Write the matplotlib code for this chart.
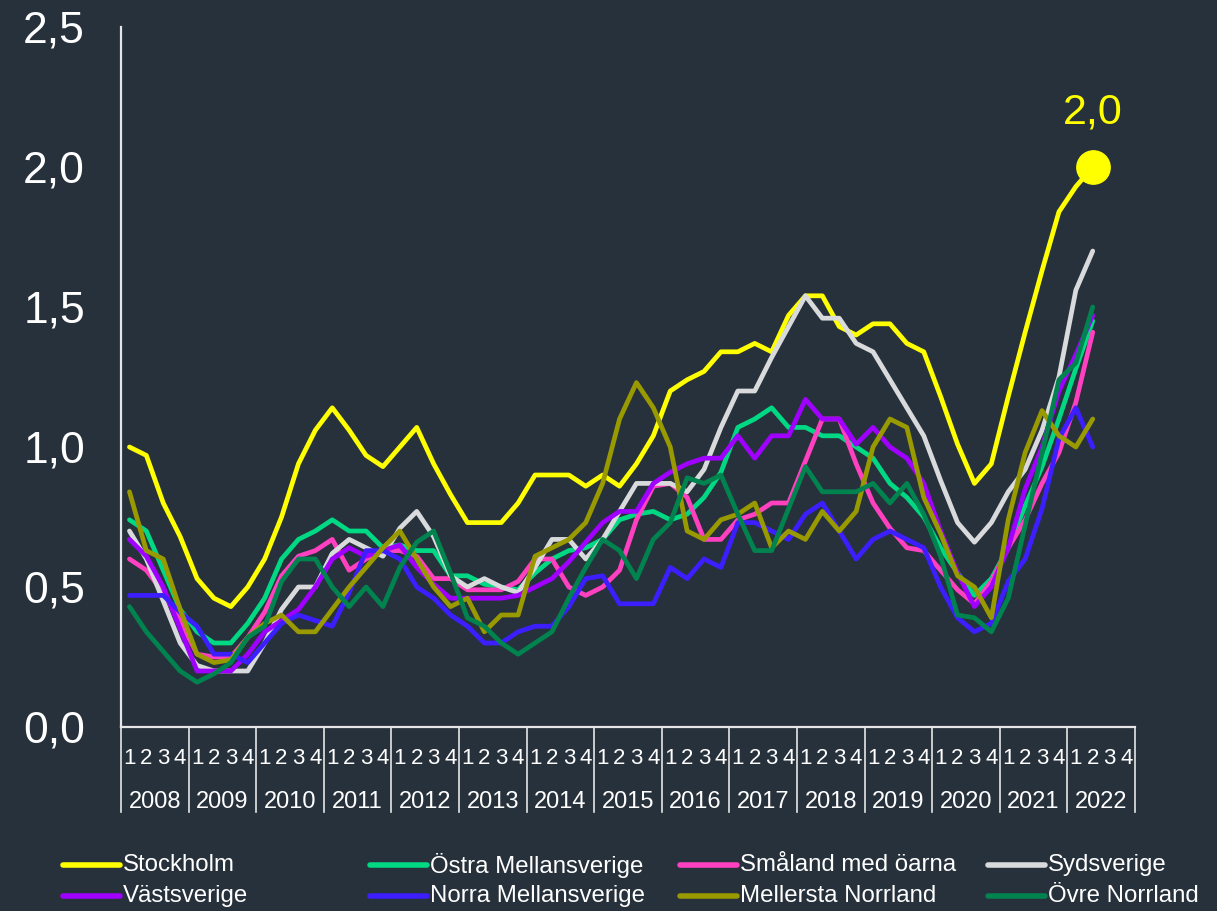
import numpy as np
import matplotlib.pyplot as plt
from matplotlib.lines import Line2D

plt.rcParams['font.family'] = ['Liberation Sans', 'DejaVu Sans']

# --- data (quarterly, 2008Q1 - 2022Q2) ---
years = [str(y) for y in range(2008, 2023)]
quarters = ['1', '2', '3', '4']

stockholm = [1.00, 0.97, 0.80, 0.68, 0.53, 0.46, 0.43, 0.50, 0.60, 0.75, 0.94, 1.06,
             1.14, 1.06, 0.97, 0.93, 1.00, 1.07, 0.94, 0.83, 0.73, 0.73, 0.73, 0.80,
             0.90, 0.90, 0.90, 0.86, 0.90, 0.86, 0.94, 1.04, 1.20, 1.24, 1.27, 1.34,
             1.34, 1.37, 1.34, 1.47, 1.54, 1.54, 1.43, 1.40, 1.44, 1.44, 1.37, 1.34,
             1.18, 1.01, 0.87, 0.94, 1.18, 1.41, 1.63, 1.84, 1.93, 2.00]
ostra = [0.74, 0.70, 0.56, 0.42, 0.34, 0.30, 0.30, 0.37, 0.46, 0.60, 0.67, 0.70,
         0.74, 0.70, 0.70, 0.64, 0.65, 0.63, 0.63, 0.54, 0.54, 0.51, 0.50, 0.49,
         0.55, 0.60, 0.63, 0.64, 0.67, 0.74, 0.76, 0.77, 0.74, 0.76, 0.82, 0.91,
         1.07, 1.10, 1.14, 1.07, 1.07, 1.04, 1.04, 1.00, 0.96, 0.87, 0.82, 0.75,
         0.64, 0.55, 0.47, 0.53, 0.64, 0.79, 0.93, 1.10, 1.28, 1.45]
smaland = [0.60, 0.56, 0.48, 0.38, 0.26, 0.25, 0.25, 0.32, 0.41, 0.54, 0.61, 0.63,
           0.67, 0.56, 0.60, 0.63, 0.63, 0.61, 0.53, 0.53, 0.49, 0.49, 0.49, 0.52,
           0.60, 0.60, 0.50, 0.47, 0.50, 0.56, 0.74, 0.86, 0.87, 0.82, 0.67, 0.67,
           0.74, 0.76, 0.80, 0.80, 0.95, 1.10, 1.10, 0.94, 0.80, 0.71, 0.64, 0.63,
           0.56, 0.49, 0.44, 0.52, 0.64, 0.74, 0.87, 0.98, 1.16, 1.41]
sydsverige = [0.70, 0.60, 0.45, 0.30, 0.22, 0.20, 0.20, 0.20, 0.30, 0.42, 0.50, 0.50,
              0.62, 0.67, 0.64, 0.61, 0.71, 0.77, 0.68, 0.54, 0.50, 0.53, 0.50, 0.48,
              0.57, 0.67, 0.67, 0.60, 0.67, 0.77, 0.87, 0.87, 0.87, 0.84, 0.92, 1.07,
              1.20, 1.20, 1.32, 1.43, 1.54, 1.46, 1.46, 1.37, 1.34, 1.24, 1.14, 1.04,
              0.88, 0.73, 0.66, 0.73, 0.84, 0.92, 1.06, 1.25, 1.56, 1.70]
vastsverige = [0.67, 0.61, 0.50, 0.35, 0.20, 0.20, 0.20, 0.26, 0.34, 0.38, 0.42, 0.50,
               0.60, 0.64, 0.61, 0.63, 0.65, 0.57, 0.51, 0.46, 0.46, 0.46, 0.46, 0.47,
               0.50, 0.53, 0.59, 0.66, 0.73, 0.77, 0.77, 0.87, 0.91, 0.94, 0.96, 0.96,
               1.04, 0.96, 1.04, 1.04, 1.17, 1.10, 1.10, 1.01, 1.07, 1.00, 0.96, 0.87,
               0.70, 0.55, 0.43, 0.50, 0.64, 0.85, 1.00, 1.20, 1.33, 1.47]
norra = [0.47, 0.47, 0.47, 0.41, 0.36, 0.26, 0.26, 0.23, 0.30, 0.37, 0.40, 0.38,
         0.36, 0.48, 0.63, 0.63, 0.60, 0.50, 0.46, 0.40, 0.36, 0.30, 0.30, 0.34,
         0.36, 0.36, 0.43, 0.53, 0.54, 0.44, 0.44, 0.44, 0.57, 0.53, 0.60, 0.57,
         0.73, 0.73, 0.70, 0.67, 0.76, 0.80, 0.70, 0.60, 0.67, 0.70, 0.67, 0.64,
         0.50, 0.39, 0.34, 0.37, 0.52, 0.60, 0.78, 1.03, 1.14, 1.00]
mellersta = [0.84, 0.63, 0.60, 0.42, 0.26, 0.23, 0.24, 0.32, 0.37, 0.40, 0.34, 0.34,
             0.42, 0.50, 0.57, 0.64, 0.70, 0.60, 0.50, 0.43, 0.46, 0.34, 0.40, 0.40,
             0.61, 0.64, 0.67, 0.73, 0.87, 1.10, 1.23, 1.14, 1.00, 0.70, 0.67, 0.74,
             0.76, 0.80, 0.64, 0.70, 0.67, 0.77, 0.70, 0.77, 1.00, 1.10, 1.07, 0.82,
             0.69, 0.54, 0.50, 0.39, 0.74, 0.98, 1.13, 1.04, 1.00, 1.10]
ovre = [0.43, 0.34, 0.27, 0.20, 0.16, 0.19, 0.23, 0.32, 0.36, 0.52, 0.60, 0.60,
        0.50, 0.43, 0.50, 0.43, 0.57, 0.66, 0.70, 0.55, 0.39, 0.36, 0.30, 0.26,
        0.30, 0.34, 0.46, 0.57, 0.67, 0.63, 0.53, 0.67, 0.73, 0.89, 0.87, 0.90,
        0.76, 0.63, 0.63, 0.78, 0.93, 0.84, 0.84, 0.84, 0.87, 0.80, 0.87, 0.76,
        0.61, 0.40, 0.39, 0.34, 0.46, 0.72, 0.98, 1.24, 1.30, 1.50]

names = ['Stockholm', 'Östra Mellansverige', 'Småland med öarna', 'Sydsverige',
         'Västsverige', 'Norra Mellansverige', 'Mellersta Norrland', 'Övre Norrland']
series = [stockholm, ostra, smaland, sydsverige, vastsverige, norra, mellersta, ovre]
colors = ['#ffff00', '#00d884', '#ff40c0', '#d9dadc',
          '#a000ff', '#3c1eff', '#999900', '#00834f']

bg = '#27313b'
fg = 'white'
W, H = 1217, 911

fig = plt.figure(figsize=(W / 100, H / 100), dpi=100, facecolor=bg)
ax = fig.add_axes([121 / W, 184 / H, 1014 / W, 700 / H], facecolor=bg)

n_cat = len(years) * 4
for name, vals, c in zip(names, series, colors):
    x = np.arange(len(vals))
    ax.plot(x, vals, color=c, lw=3.4, solid_joinstyle='round',
            solid_capstyle='round', label=name)

# end point of Stockholm
last = len(stockholm) - 1
ax.plot(last, stockholm[last], 'o', color='#ffff00', ms=24, zorder=10)
ax.annotate(f'{stockholm[last]:.1f}'.replace('.', ','), (last, stockholm[last]),
            xytext=(0, 25), textcoords='offset points', ha='center', va='bottom',
            color='#ffff00', fontsize=31)

ax.set_xlim(-0.5, n_cat - 0.5)
ax.set_ylim(0, 2.5)
yt = np.arange(0, 2.51, 0.5)
ax.set_yticks(yt)
ax.set_yticklabels([f'{v:.1f}'.replace('.', ',') for v in yt])
ax.tick_params(axis='y', length=0, pad=26, labelsize=32, labelcolor=fg)

ax.set_xticks(np.arange(n_cat))
ax.set_xticklabels(quarters * len(years))
ax.tick_params(axis='x', length=0, pad=15, labelsize=16, labelcolor=fg)

for s in ['top', 'right']:
    ax.spines[s].set_visible(False)
for s in ['left', 'bottom']:
    ax.spines[s].set_color('#e6e6e6')
    ax.spines[s].set_linewidth(1.6)

# year labels and separators
trans = ax.get_xaxis_transform()
for i, yr in enumerate(years):
    ax.text(i * 4 + 1.5, -0.107, yr, transform=trans, ha='center', va='center',
            color=fg, fontsize=17)
for k in range(len(years) + 1):
    ax.plot([k * 4 - 0.5] * 2, [0, -0.122], transform=trans, color='#e6e6e6',
            lw=1.2, clip_on=False)

# legend, two rows of four
col_x = [63, 370, 680, 988]
row_y = [865, 896]
for j, (name, c) in enumerate(zip(names, colors)):
    x0 = col_x[j % 4]
    y0 = 1 - row_y[j // 4] / H
    fig.add_artist(Line2D([x0 / W, (x0 + 57) / W], [y0, y0], color=c, lw=4,
                          solid_capstyle='round'))
    fig.text((x0 + 60) / W, y0, name, color=fg, fontsize=17.3,
             ha='left', va='center')

fig.savefig('out.png', dpi=100, facecolor=bg)
